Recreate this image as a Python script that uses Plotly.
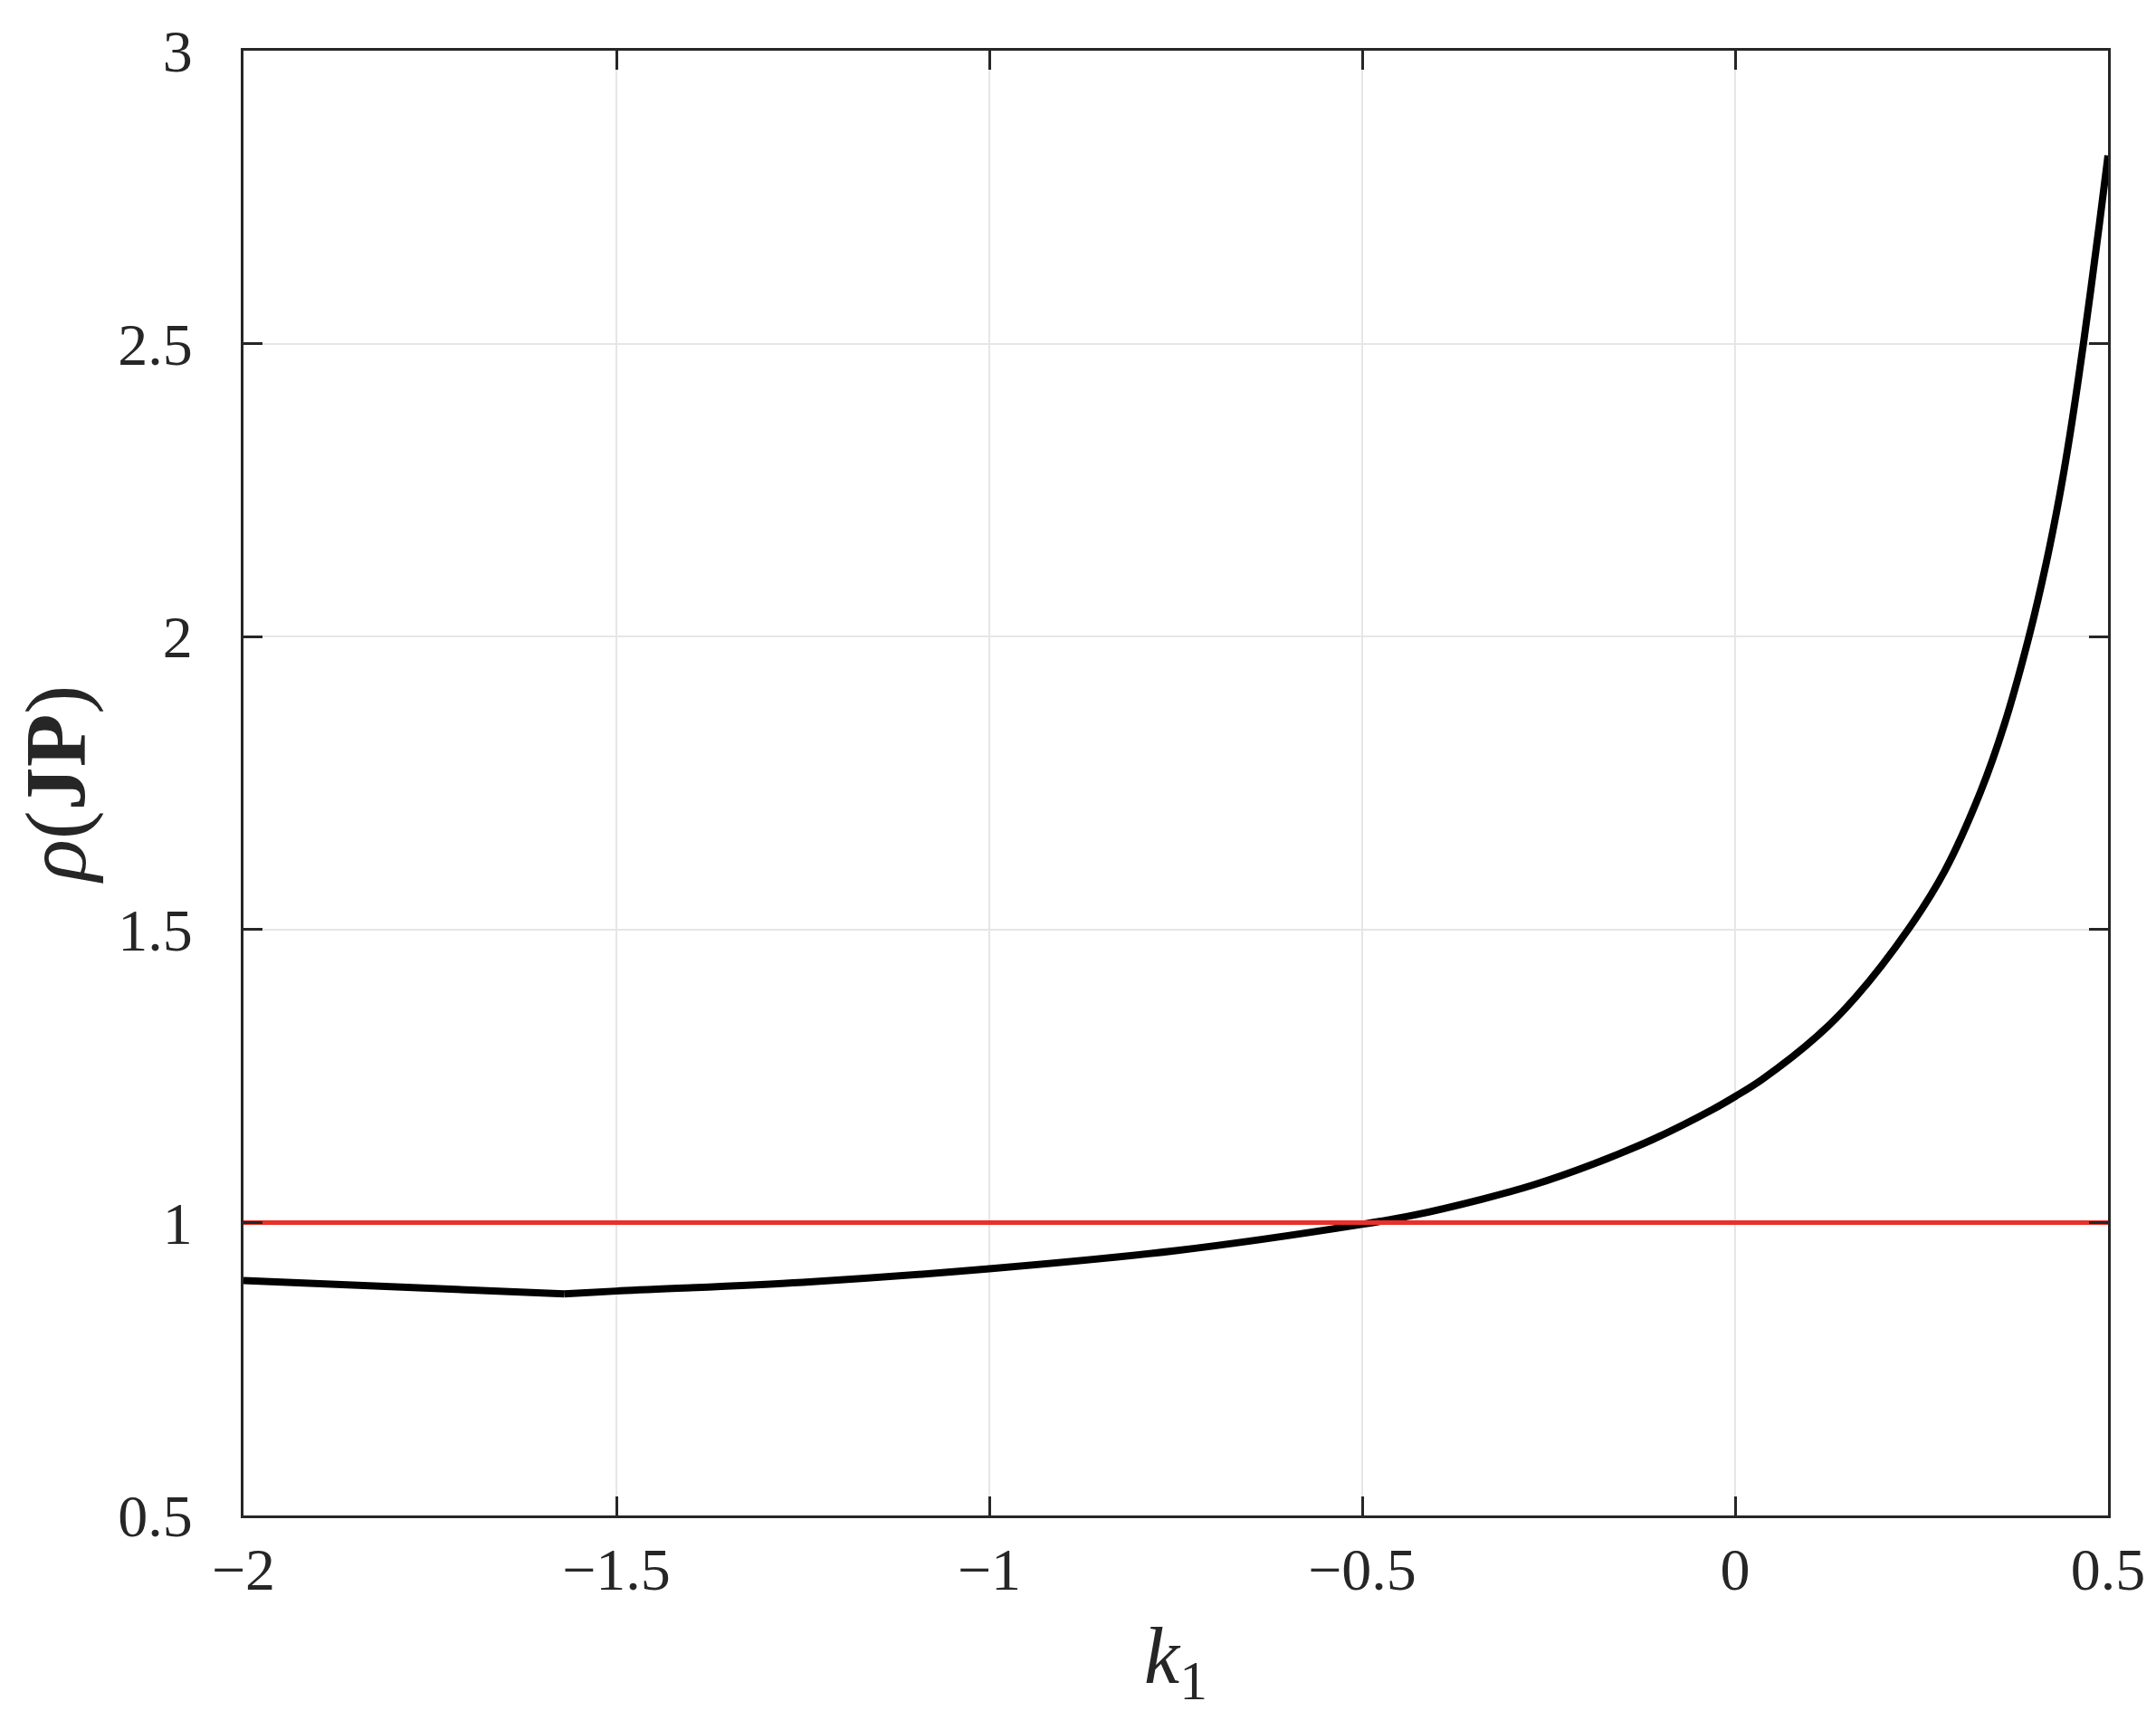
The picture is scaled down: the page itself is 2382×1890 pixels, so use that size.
import plotly.graph_objects as go

# Data
k1 = [-2.0, -1.57, -1.5, -1.25, -1.0, -0.75, -0.5, -0.433, -0.339, -0.271, -0.19,
      -0.11, -0.03, 0.0, 0.036, 0.11, 0.162, 0.232, 0.281, 0.329, 0.361, 0.394,
      0.417, 0.435, 0.449, 0.467, 0.488, 0.5]
rho = [0.901, 0.878, 0.883, 0.898, 0.921, 0.952, 0.997, 1.012, 1.040, 1.064, 1.100,
       1.142, 1.193, 1.215, 1.244, 1.318, 1.385, 1.500, 1.600, 1.735, 1.850, 2.000,
       2.125, 2.240, 2.345, 2.500, 2.700, 2.821]
threshold_x = [-2.0, 0.5]
threshold_y = [1.0, 1.0]

x_tickvals = [-2, -1.5, -1, -0.5, 0, 0.5]
x_ticktext = ["\u22122", "\u22121.5", "\u22121", "\u22120.5", "0", "0.5"]
y_tickvals = [0.5, 1, 1.5, 2, 2.5, 3]
y_ticktext = ["0.5", "1", "1.5", "2", "2.5", "3"]

FONT = "Liberation Serif"
PAGE_OFFSET = 8  # default body margin of the html page

fig = go.Figure()
# straight segment before the kink
fig.add_trace(go.Scatter(x=k1[:2], y=rho[:2], mode="lines",
                         line=dict(color="black", width=8), showlegend=False))
fig.add_trace(go.Scatter(x=k1[1:], y=rho[1:], mode="lines",
                         line=dict(color="black", width=8, shape="spline", smoothing=1.0),
                         showlegend=False))
fig.add_trace(go.Scatter(x=threshold_x, y=threshold_y, mode="lines",
                         line=dict(color="rgb(232,48,40)", width=5), showlegend=False))

axis_common = dict(
    showline=True, linecolor="#262626", linewidth=3, mirror="ticks",
    ticks="inside", ticklen=21, tickwidth=3, tickcolor="#262626",
    showgrid=True, gridcolor="#e6e6e6", gridwidth=2, zeroline=False,
    tickfont=dict(family=FONT, size=66, color="#262626"),
)

fig.update_xaxes(range=[-2, 0.5], tickvals=x_tickvals, ticktext=x_ticktext,
                 ticklabelstandoff=0,
                 title=dict(text="<i>k</i><sub>1</sub>", standoff=46,
                            font=dict(family=FONT, size=88, color="#262626")),
                 **axis_common)
fig.update_yaxes(range=[0.5, 3], tickvals=y_tickvals, ticktext=y_ticktext,
                 ticklabelstandoff=40,
                 title=dict(text="<i>\u03c1</i>(<b>JP</b>)", standoff=18,
                            font=dict(family=FONT, size=96, color="#262626")),
                 **axis_common)

fig.update_layout(
    width=2382 - PAGE_OFFSET, height=1890 - PAGE_OFFSET, autosize=False,
    margin=dict(l=269 - PAGE_OFFSET, r=43, t=48 - PAGE_OFFSET, b=212),
    paper_bgcolor="white", plot_bgcolor="white",
)

fig.write_html("out.html")
